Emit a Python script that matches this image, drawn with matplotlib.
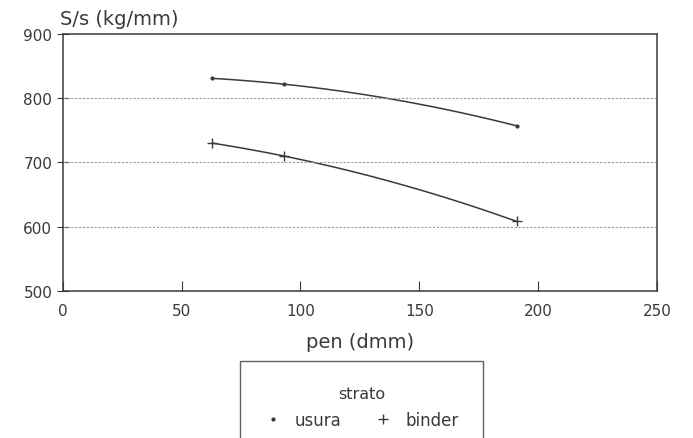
import matplotlib
matplotlib.use("Agg")
import matplotlib.pyplot as plt
import numpy as np

# dati
pen = [63, 93, 191]
usura = [831, 822, 757]
binder = [730, 710, 608]

x_ticks = [0, 50, 100, 150, 200, 250]
y_ticks = [500, 600, 700, 800, 900]

plt.rcParams["font.family"] = ["DejaVu Sans"]
ink = "#3a3a3a"

fig = plt.figure(figsize=(6.93, 4.39), dpi=100)
ax = fig.add_axes([0.0905, 0.3355, 0.8575, 0.5845])

# curva liscia per ogni serie (parabola per i tre punti)
xs = np.linspace(min(pen), max(pen), 100)
for vals, mk, lab, ms in [(usura, ".", "usura", 4), (binder, "+", "binder", 7)]:
    c = np.polyfit(pen, vals, 2)
    ax.plot(xs, np.polyval(c, xs), color=ink, lw=1.1)
    ax.plot(pen, vals, ls="none", marker=mk, ms=ms, mew=1.0, color=ink, label=lab)

ax.set_xlim(0, 250)
ax.set_ylim(500, 900)
ax.set_xticks(x_ticks)
ax.set_yticks(y_ticks)
ax.tick_params(axis="x", direction="in", length=7, colors=ink, labelsize=11, pad=9)
ax.tick_params(axis="y", direction="inout", length=9, colors=ink, labelsize=11, pad=3)
for s in ax.spines.values():
    s.set_color(ink)
    s.set_linewidth(1.1)

for yv in y_ticks[1:-1]:
    ax.axhline(yv, color="#9a9a9a", lw=0.8, ls=(0, (2, 1.5)))

ax.set_xlabel("pen (dmm)", fontsize=14, color=ink, labelpad=10)
fig.text(0.087, 0.935, "S/s (kg/mm)", fontsize=14, color=ink, ha="left", va="bottom")

leg = fig.legend(loc="upper center", bbox_to_anchor=(0.522, 0.195), ncol=2,
                 title="strato", fontsize=12, title_fontsize=11.5,
                 frameon=True, fancybox=False, borderpad=1.5,
                 labelspacing=0.6, columnspacing=2.0, handlelength=1.0,
                 handletextpad=0.8, labelcolor=ink)
leg.get_frame().set_edgecolor(ink)
leg.get_frame().set_linewidth(1.0)
leg.get_title().set_color(ink)

fig.savefig("out.png", dpi=100)
